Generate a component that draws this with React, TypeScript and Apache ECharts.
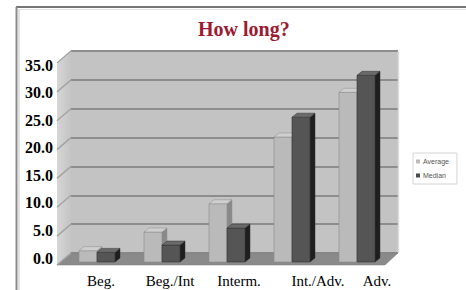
import React, { useEffect, useRef } from "react";
import * as echarts from "echarts";

const categories = ["Beg.", "Beg./Int", "Interm.", "Int./Adv.", "Adv."];
const average = [2.0, 5.3, 10.3, 22.1, 30.0];
const median = [1.7, 3.0, 6.0, 25.6, 33.0];
const yTicks = [0, 5, 10, 15, 20, 25, 30, 35];
const labelShift = [0, -1, -2, 7, -4];

const SERIF = "'Liberation Serif', 'Times New Roman', serif";

function barRenderer(offset: number, width: number, front: string, top: string, side: string, edge: string) {
  return (params: any, api: any) => {
    const i = api.value(0);
    const v = api.value(1);
    const t = api.coord([i, v]);
    const b = api.coord([i, 0]);
    const x0 = t[0] + offset;
    const x1 = x0 + width;
    const dx = 5;
    const dy = 4;
    return {
      type: "group",
      children: [
        {
          type: "polygon",
          shape: { points: [[x1, b[1]], [x1 + dx, b[1] - dy], [x1 + dx, t[1] - dy], [x1, t[1]]] },
          style: { fill: side, stroke: edge, lineWidth: 0.5 },
        },
        {
          type: "rect",
          shape: { x: x0, y: t[1], width: width, height: b[1] - t[1] },
          style: { fill: front, stroke: edge, lineWidth: 0.6 },
        },
        {
          type: "polygon",
          shape: { points: [[x0, t[1]], [x0 + dx, t[1] - dy], [x1 + dx, t[1] - dy], [x1, t[1]]] },
          style: { fill: top, stroke: edge, lineWidth: 0.5 },
        },
      ],
    };
  };
}

export default function App() {
  const ref = useRef<HTMLDivElement>(null);
  useEffect(() => {
    if (!ref.current) return;
    const chart = echarts.init(ref.current, undefined, { renderer: "svg" });
    const rich: any = {};
    labelShift.forEach((s, i) => {
      rich["l" + i] = {
        fontFamily: SERIF,
        fontSize: 15,
        color: "#000",
        padding: s >= 0 ? [0, 0, 0, 2 * s] : [0, -2 * s, 0, 0],
      };
    });
    chart.setOption({
      animation: false,
      backgroundColor: "#ffffff",
      title: {
        text: "How long?",
        left: 198,
        top: 19,
        padding: 0,
        textStyle: { fontFamily: SERIF, fontWeight: "bold", fontSize: 20, color: "#9e1a30" },
      },
      legend: {
        data: ["Average", "Median"],
        orient: "vertical",
        left: 413,
        top: 153,
        icon: "rect",
        itemWidth: 4,
        itemHeight: 4,
        itemGap: 7,
        padding: [5, 8, 5, 3],
        borderColor: "#d4d4d4",
        borderWidth: 1,
        textStyle: { fontSize: 7, color: "#555", fontFamily: "'Liberation Sans', sans-serif", padding: [0, 0, 0, -2] },
      },
      grid: [
        { left: 71, top: 51, width: 327, height: 202, show: true, backgroundColor: "#c3c3c3", borderWidth: 0 },
        { left: 64.5, top: 64, width: 325, height: 198 },
        { left: 57, top: 65, width: 10, height: 193 },
        { left: 66, top: 60, width: 350, height: 210 },
      ],
      xAxis: [
        { gridIndex: 0, type: "value", min: 0, max: 1, show: false },
        { gridIndex: 1, type: "category", data: categories, show: false },
        { gridIndex: 2, type: "value", min: 0, max: 1, show: false },
        {
          gridIndex: 3,
          type: "category",
          data: categories,
          axisLine: { show: false },
          axisTick: { show: false },
          axisLabel: {
            interval: 0,
            hideOverlap: false,
            margin: 3,
            fontFamily: SERIF,
            fontSize: 15,
            color: "#000",
            formatter: (v: string, i: number) => `{l${i}|${v}}`,
            rich,
          },
        },
      ],
      yAxis: [
        {
          gridIndex: 0,
          type: "value",
          min: 0,
          max: 35,
          interval: 5,
          axisLabel: { show: false },
          axisLine: { show: false },
          axisTick: { show: false },
          splitLine: { show: true, lineStyle: { color: "#8d8d8d", width: 2 } },
        },
        { gridIndex: 1, type: "value", min: 0, max: 35, interval: 5, show: false },
        {
          gridIndex: 2,
          type: "value",
          min: 0,
          max: 35,
          interval: 5,
          axisLine: { show: false },
          axisTick: { show: false },
          splitLine: { show: false },
          axisLabel: {
            margin: 4,
            fontFamily: SERIF,
            fontWeight: "bold",
            fontSize: 16,
            color: "#000",
            formatter: (v: number) => v.toFixed(1),
          },
        },
        { gridIndex: 3, type: "value", show: false },
      ],
      graphic: [
        {
          type: "polygon",
          z: 1,
          shape: { points: [[57, 64], [71, 51], [71, 253], [57, 265]] },
          style: {
            fill: new echarts.graphic.LinearGradient(0, 0, 1, 0, [
              { offset: 0, color: "#d6d6d6" },
              { offset: 1, color: "#c4c4c4" },
            ]),
          },
        },
        {
          type: "polygon",
          z: 1,
          shape: { points: [[57, 265], [71, 253], [398, 253], [385, 265]] },
          style: { fill: "#8a8a8a", stroke: "#7a7a7a", lineWidth: 0.5 },
        },
        { type: "line", z: 1, shape: { x1: 398.5, y1: 51, x2: 398.5, y2: 253 }, style: { stroke: "#dcdcdc", lineWidth: 1.5 } },
        { type: "line", z: 10, shape: { x1: 16, y1: 7, x2: 466, y2: 7 }, style: { stroke: "#767676", lineWidth: 2 } },
        { type: "line", z: 10, shape: { x1: 16.5, y1: 7, x2: 16.5, y2: 290 }, style: { stroke: "#8a8a8a", lineWidth: 2 } },
        { type: "line", z: 10, shape: { x1: 19, y1: 9, x2: 19, y2: 290 }, style: { stroke: "#d8d8d8", lineWidth: 1.5 } },
        { type: "line", z: 10, shape: { x1: 18, y1: 9.5, x2: 466, y2: 9.5 }, style: { stroke: "#e2e2e2", lineWidth: 1 } },
      ],
      series: [
        {
          type: "custom",
          xAxisIndex: 0,
          yAxisIndex: 0,
          silent: true,
          z: 2,
          data: yTicks.map((v) => [0, v]),
          renderItem: (params: any, api: any) => {
            const p = api.coord([0, api.value(1)]);
            return {
              type: "line",
              shape: { x1: p[0], y1: p[1], x2: p[0] - 14, y2: p[1] + 12 },
              style: { stroke: "#a4a4a4", lineWidth: 1.5 },
            };
          },
        },
        {
          name: "Average",
          type: "custom",
          xAxisIndex: 1,
          yAxisIndex: 1,
          z: 5,
          itemStyle: { color: "#bcbcbc" },
          data: average.map((v, i) => [i, v]),
          renderItem: barRenderer(-18, 18, "#bababa", "#cfcfcf", "#8a8a8a", "#8c8c8c"),
        },
        {
          name: "Median",
          type: "custom",
          xAxisIndex: 1,
          yAxisIndex: 1,
          z: 6,
          itemStyle: { color: "#4a4a4a" },
          data: median.map((v, i) => [i, v]),
          renderItem: barRenderer(0, 18, "#555555", "#6a6a6a", "#1e1e1e", "#333333"),
        },
      ],
    });
    return () => chart.dispose();
  }, []);
  return <div ref={ref} style={{ position: "fixed", left: 0, top: 0, width: 466, height: 290 }} />;
}
